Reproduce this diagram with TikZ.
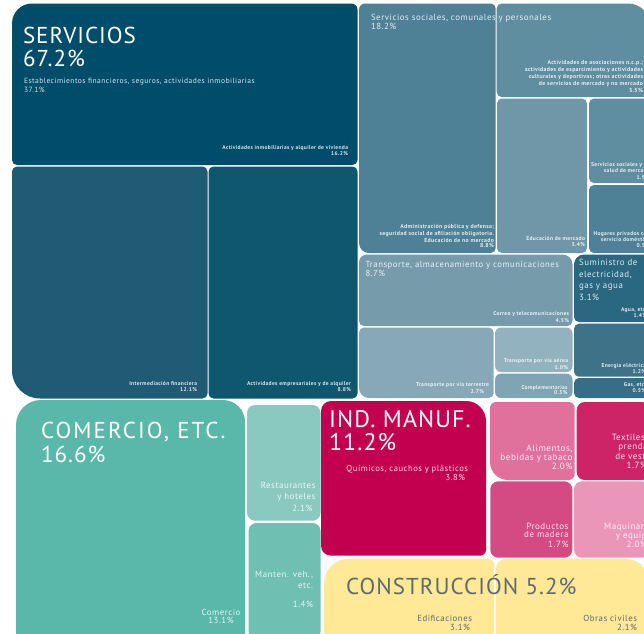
\documentclass[tikz,border=0pt]{standalone}
\usepackage{fontspec}
\usepackage{array}
\newfontfamily\tmreg[LetterSpace=6]{PT Sans}
\newfontfamily\tmwide[LetterSpace=9]{PT Sans}
\newfontfamily\tmbig[LetterSpace=4.5]{PT Sans}
\newfontfamily\tmbold[LetterSpace=6]{PT Sans Bold}
\definecolor{cServ}{HTML}{004D6B}
\definecolor{cInter}{HTML}{1F5B75}
\definecolor{cEmp}{HTML}{0F566F}
\definecolor{cAdm}{HTML}{4F8196}
\definecolor{cAso}{HTML}{5F8EA1}
\definecolor{cEdu}{HTML}{6F97A8}
\definecolor{cTra}{HTML}{769CAC}
\definecolor{cTer}{HTML}{86A8B7}
\definecolor{cAer}{HTML}{93B2BF}
\definecolor{cCom}{HTML}{7FA4B3}
\definecolor{cSum}{HTML}{2A6780}
\definecolor{cEne}{HTML}{3D7289}
\definecolor{cGas}{HTML}{356E86}
\definecolor{cCome}{HTML}{5AB8AA}
\definecolor{cRes}{HTML}{89C9BF}
\definecolor{cMan}{HTML}{6FBFB2}
\definecolor{cInd}{HTML}{C3004F}
\definecolor{cAli}{HTML}{E0719C}
\definecolor{cTex}{HTML}{CD2466}
\definecolor{cPro}{HTML}{D44A82}
\definecolor{cMaq}{HTML}{E996B8}
\definecolor{cCon}{HTML}{FFE896}
\definecolor{cConText}{HTML}{5F6A70}
\tikzset{
  tmtext/.style={inner sep=0pt,outer sep=0pt,text=white},
  tmsoft/.style={tmtext,text opacity=.85},
  tmdark/.style={inner sep=0pt,outer sep=0pt,text=cConText},
}
% x0 y0 x1 y1 tl tr br bl colour
\newcommand\tmbox[9]{%
  \pgfmathsetmacro\ka{.448*#5}\pgfmathsetmacro\kb{.448*#6}%
  \pgfmathsetmacro\kc{.448*#7}\pgfmathsetmacro\kd{.448*#8}%
  \fill[#9] ({#1+#5},#2) -- ({#3-#6},#2)
    .. controls ({#3-\kb},#2) and (#3,{#2+\kb}) .. (#3,{#2+#6})
    -- (#3,{#4-#7})
    .. controls (#3,{#4-\kc}) and ({#3-\kc},#4) .. ({#3-#7},#4)
    -- ({#1+#8},#4)
    .. controls ({#1+\kd},#4) and (#1,{#4-\kd}) .. (#1,{#4-#8})
    -- (#1,{#2+#5})
    .. controls (#1,{#2+\ka}) and ({#1+\ka},#2) .. ({#1+#5},#2) -- cycle;%
}
% name, style, x, y, anchor, font+size, text
\newcommand\tmlab[7]{%
  \node[#2,anchor=#5] (#1) at (#3,#4) {#6#7};%
}
\newcommand\fs[2]{\fontsize{#1}{#2}\selectfont}
\newcommand\cola[2]{\begin{tabular}[t]{@{}#1@{}}#2\end{tabular}}
\begin{document}
\begin{tikzpicture}[x=1pt,y=-1pt]
\useasboundingbox (0,0) rectangle (644,633);
\fill[white] (0,0) rectangle (644,633);
\clip (0,0) rectangle (644,633);
% servicios
\tmbox{12}{3.5}{357.5}{165}{20}{6}{5}{5}{cServ}
\tmbox{12}{166.5}{207.5}{398.5}{5}{5}{5}{28}{cInter}
\tmbox{208.5}{166.5}{357.5}{398.5}{5}{5}{5}{5}{cEmp}
\tmbox{359}{3.5}{495.7}{253}{6}{5}{5}{10}{cAdm}
\tmbox{496.7}{3.5}{650}{97}{5}{22}{5}{5}{cAso}
\tmbox{497}{98.5}{587}{253}{5}{5}{5}{5}{cEdu}
\tmbox{589}{98.5}{650}{183}{5}{5}{5}{5}{cAso}
\tmbox{589}{185}{650}{253}{5}{5}{5}{5}{cAdm}
\tmbox{359}{254.5}{572.5}{326}{8}{10}{5}{5}{cTra}
\tmbox{359}{327.5}{493.7}{398}{5}{5}{5}{10}{cTer}
\tmbox{495}{327.5}{572.5}{372}{6}{6}{6}{6}{cAer}
\tmbox{495}{373.7}{572.5}{398}{6}{6}{6}{6}{cCom}
\tmbox{574}{254.5}{650}{322}{10}{5}{5}{5}{cSum}
\tmbox{574}{323.7}{650}{376.7}{5}{5}{5}{5}{cEne}
\tmbox{574}{378}{650}{398}{5}{5}{5}{5}{cGas}
% comercio
\tmbox{16}{400}{245}{640}{25}{22}{6}{6}{cCome}
\tmbox{247}{405}{320.5}{520.7}{8}{8}{8}{8}{cRes}
\tmbox{248.5}{523}{320.5}{640}{8}{8}{8}{8}{cMan}
% industria
\tmbox{321}{401}{486}{555.7}{10}{20}{6}{10}{cInd}
\tmbox{490}{402}{574.7}{480}{6}{6}{6}{18}{cAli}
\tmbox{576.7}{402}{650}{480}{8}{8}{8}{8}{cTex}
\tmbox{490.3}{481.3}{572.3}{557.7}{8}{8}{8}{8}{cPro}
\tmbox{574}{481.3}{650}{557.7}{8}{8}{8}{8}{cMaq}
% construccion
\tmbox{324}{558.7}{494}{640}{25}{6}{6}{6}{cCon}
\tmbox{496}{558.7}{650}{640}{10}{25}{6}{6}{cCon}
% big titles
\tmlab{tServ}{tmtext}{23}{43}{base west}{\tmbig\fs{23}{22}}{\cola{l}{SERVICIOS\\67.2\%}}
\tmlab{tCome}{tmtext}{41}{438}{base west}{\tmbig\fs{23}{24}}{\cola{l}{{\tmwide COMERCIO, ETC.}\\16.6\%}}
\tmlab{tInd}{tmtext}{329}{427}{base west}{\tmbig\fs{24}{22.5}}{\cola{l}{IND. MANUF.\\11.2\%}}
\tmlab{tCon}{tmdark}{346}{594.3}{base west}{\tmbig\fs{23}{24}}{CONSTRUCCIÓN 5.2\%}
% medium titles
\tmlab{tFin}{tmsoft}{24}{83}{base west}{\tmreg\fs{7.55}{9}}{\cola{l}{Establecimientos financieros, seguros, actividades inmobiliarias\\37.1\%}}
\tmlab{tSoc}{tmsoft}{371}{20}{base west}{\tmreg\fs{8.85}{9}}{\cola{l}{Servicios sociales, comunales y personales\\18.2\%}}
\tmlab{tTra}{tmsoft}{365.5}{267.5}{base west}{\tmreg\fs{8.7}{9.2}}{\cola{l}{Transporte, almacenamiento y comunicaciones\\8.7\%}}
\tmlab{tSum}{tmsoft}{579}{265.7}{base west}{\tmreg\fs{8.9}{11.3}}{\cola{l}{Suministro de\\electricidad,\\gas y agua\\[.8pt]3.1\%}}
\tmlab{tQui}{tmsoft}{468}{471.7}{base east}{\tmreg\fs{8.6}{8}}{\cola{r}{Químicos, cauchos y plásticos\\3.8\%\kern3pt}}
% small bold labels
\tmlab{lInm}{tmsoft}{348}{149}{base east}{\tmbold\fs{5.55}{6}}{\cola{r}{Actividades inmobiliarias y alquiler de vivienda\\16.2\%}}
\tmlab{lInt}{tmsoft}{197}{385}{base east}{\tmbold\fs{5.55}{6}}{\cola{r}{Intermediación financiera\\12.1\%}}
\tmlab{lEmp}{tmsoft}{351}{385}{base east}{\tmbold\fs{5.55}{6}}{\cola{r}{Actividades empresariales y de alquiler\\8.8\%}}
\tmlab{lAdm}{tmsoft}{494}{228}{base east}{\tmbold\fs{5.8}{7}}{\cola{r}{Administración pública y defensa;\\seguridad social de afiliación obligatoria.\\Educación de no mercado\\[-1.4pt]8.8\%}}
\tmlab{lAso}{tmsoft}{643}{64}{base east}{\tmbold\fs{5.8}{7}}{\cola{r}{Actividades de asociaciones n.c.p.;\\actividades de esparcimiento y actividades\\culturales y deportivas; otras actividades\\de servicios de mercado y no mercado\\3.5\%}}
\tmlab{lEdu}{tmsoft}{585}{240}{base east}{\tmbold\fs{5.55}{6.5}}{\cola{r}{Educación de mercado\\3.4\%}}
\tmlab{lSal}{tmsoft}{650}{166}{base east}{\tmbold\fs{5.55}{6.5}}{\cola{r}{Servicios sociales y de\\salud de mercado\\1.9\%}}
\tmlab{lHog}{tmsoft}{650}{235.7}{base east}{\tmbold\fs{5.55}{6}}{\cola{r}{Hogares privados con\\servicio doméstico\\0.5\%}}
\tmlab{lCor}{tmsoft}{569}{315.7}{base east}{\tmbold\fs{5.55}{7}}{\cola{r}{Correo y telecomunicaciones\\4.5\%}}
\tmlab{lTer}{tmsoft}{489}{386}{base east}{\tmbold\fs{5.55}{7}}{\cola{r}{Transporte por vía terrestre\\2.7\%\kern5pt}}
\tmlab{lAer}{tmsoft}{568}{362}{base east}{\tmbold\fs{5.55}{7}}{\cola{r}{Transporte por vía aérea\\1.0\%}}
\tmlab{lCpl}{tmsoft}{567.5}{389}{base east}{\tmbold\fs{5.55}{5.5}}{\cola{r}{Complementarias\\0.5\%}}
\tmlab{lAgu}{tmsoft}{647}{311}{base east}{\tmbold\fs{5.55}{6.3}}{\cola{r}{Agua, etc.\\1.4\%}}
\tmlab{lEne}{tmsoft}{646}{367}{base east}{\tmbold\fs{5.55}{6}}{\cola{r}{Energía eléctrica\\1.2\%}}
\tmlab{lGas}{tmsoft}{646}{386}{base east}{\tmbold\fs{5.55}{6}}{\cola{r}{Gas, etc.\\0.5\%}}
% sector labels
\tmlab{lRes}{tmsoft}{315.5}{488}{base east}{\tmreg\fs{8.9}{11}}{\cola{r}{Restaurantes\\y hoteles\\[1pt]2.1\%\kern3pt}}
\tmlab{lMan}{tmsoft}{313}{577.7}{base east}{\tmreg\fs{8.9}{11}}{\cola{r}{Manten. veh.,\\etc.\\[8pt]1.4\%}}
\tmlab{lComer}{tmsoft}{221}{615}{base}{\tmreg\fs{8.8}{8.8}}{\cola{c}{Comercio\\13.1\%}}
\tmlab{lAli}{tmsoft}{572.5}{451}{base east}{\tmreg\fs{9.1}{8.8}}{\cola{r}{Alimentos,\\bebidas y tabaco\\2.0\%}}
\tmlab{lTex}{tmsoft}{652}{440.7}{base east}{\tmreg\fs{9}{9.2}}{\cola{r}{Textiles y\\prendas\\de vestir\\1.7\%\kern5pt}}
\tmlab{lPro}{tmsoft}{568.5}{529}{base east}{\tmreg\fs{9}{8.8}}{\cola{r}{Productos\\de madera\\1.7\%}}
\tmlab{lMaq}{tmsoft}{652}{529}{base east}{\tmreg\fs{9}{8.8}}{\cola{r}{Maquinaria\\y equipo\\2.0\%\kern5pt}}
\tmlab{lEdi}{tmdark}{472}{621.7}{base east}{\tmreg\fs{8.8}{9}}{\cola{r}{Edificaciones\\3.1\%\kern2pt}}
\tmlab{lObr}{tmdark}{637}{621.7}{base east}{\tmreg\fs{8.8}{9}}{\cola{r}{Obras civiles\\2.1\%}}
\end{tikzpicture}
\end{document}
